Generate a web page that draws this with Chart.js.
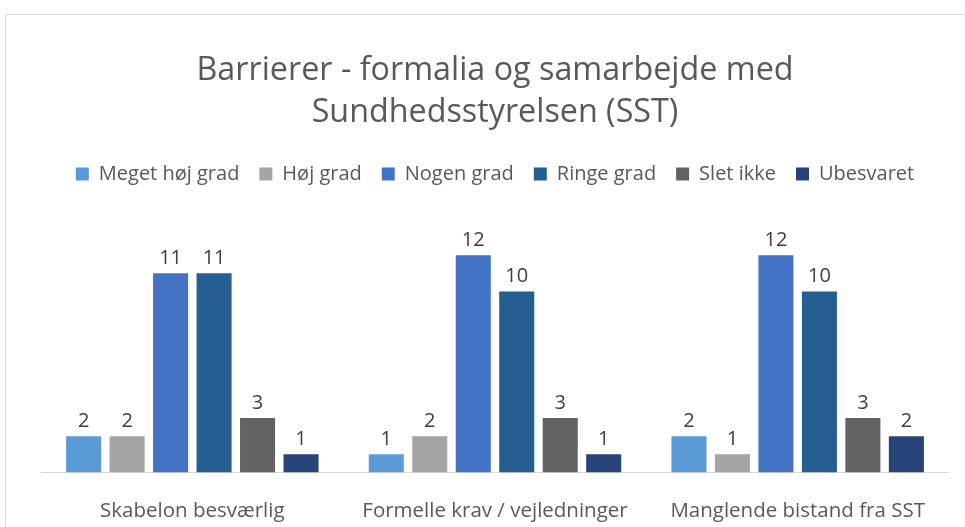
<!DOCTYPE html>
<html>
<head>
<meta charset="utf-8">
<script src="https://cdn.jsdelivr.net/npm/chart.js@4"></script>
<style>
  html, body { margin: 0; padding: 0; overflow: hidden; background: #fff; }
  #frame { position: absolute; left: 5px; top: 14px; width: 985px; height: 580px; border: 1px solid #d9d9d9; box-sizing: border-box; }
  #wrap { position: absolute; left: 5px; top: 14px; width: 985px; height: 550px; }
</style>
</head>
<body>
<div id="frame"></div>
<div id="wrap"><canvas id="chart"></canvas></div>
<script>
// kategorier og serier
const categories = ["Skabelon besværlig", "Formelle krav / vejledninger", "Manglende bistand fra SST"];
const seriesNames = ["Meget høj grad", "Høj grad", "Nogen grad", "Ringe grad", "Slet ikke", "Ubesvaret"];
const meget = [2, 1, 2];
const hoej = [2, 2, 1];
const nogen = [11, 12, 12];
const ringe = [11, 10, 10];
const slet = [3, 3, 3];
const ubesvaret = [1, 1, 2];
const colors = ["#5B9BD5", "#A5A5A5", "#4472C4", "#255E91", "#636363", "#264478"];

const FONT = '"Open Sans", "Noto Sans", sans-serif';

// tal over søjlerne
const valueLabels = {
  id: "valueLabels",
  afterDatasetsDraw(chart) {
    const ctx = chart.ctx;
    ctx.save();
    ctx.font = "20px " + FONT;
    ctx.fillStyle = "#404040";
    ctx.textAlign = "center";
    ctx.textBaseline = "bottom";
    chart.data.datasets.forEach((ds, i) => {
      chart.getDatasetMeta(i).data.forEach((bar, j) => {
        ctx.fillText(String(ds.data[j]), bar.x, bar.y - 5);
      });
    });
    ctx.restore();
  }
};

// ekstra luft under legend
const legendGap = {
  id: "legendGap",
  beforeInit(chart) {
    const origFit = chart.legend.fit;
    chart.legend.fit = function () {
      origFit.bind(chart.legend)();
      this.height += 25;
    };
  }
};

const allSeries = [meget, hoej, nogen, ringe, slet, ubesvaret];

new Chart(document.getElementById("chart"), {
  type: "bar",
  data: {
    labels: categories,
    datasets: allSeries.map((vals, i) => ({
      label: seriesNames[i],
      data: vals,
      backgroundColor: colors[i],
      barPercentage: 0.806,
      categoryPercentage: 0.862,
    })),
  },
  options: {
    responsive: true,
    maintainAspectRatio: false,
    animation: false,
    layout: { padding: { top: 0, left: 36, right: 41, bottom: 15 } },
    scales: {
      x: {
        grid: { display: false, drawTicks: false },
        border: { display: true, color: "#d9d9d9", width: 1 },
        ticks: { color: "#595959", font: { family: FONT, size: 20.5 }, padding: 26, maxRotation: 0 },
      },
      y: {
        display: false,
        min: 0,
        max: 14,
      },
    },
    plugins: {
      title: {
        display: true,
        text: ["Barrierer - formalia og samarbejde med", "Sundhedsstyrelsen (SST)"],
        color: "#595959",
        font: { family: FONT, size: 32.3, weight: "normal", lineHeight: 1.3 },
        padding: { top: 36, bottom: 10 },
      },
      legend: {
        display: true,
        position: "top",
        labels: {
          color: "#595959",
          font: { family: FONT, size: 20 },
          boxWidth: 13,
          boxHeight: 13,
          padding: 20,
        },
      },
      tooltip: { enabled: false },
    },
  },
  plugins: [valueLabels, legendGap],
});
</script>
</body>
</html>
